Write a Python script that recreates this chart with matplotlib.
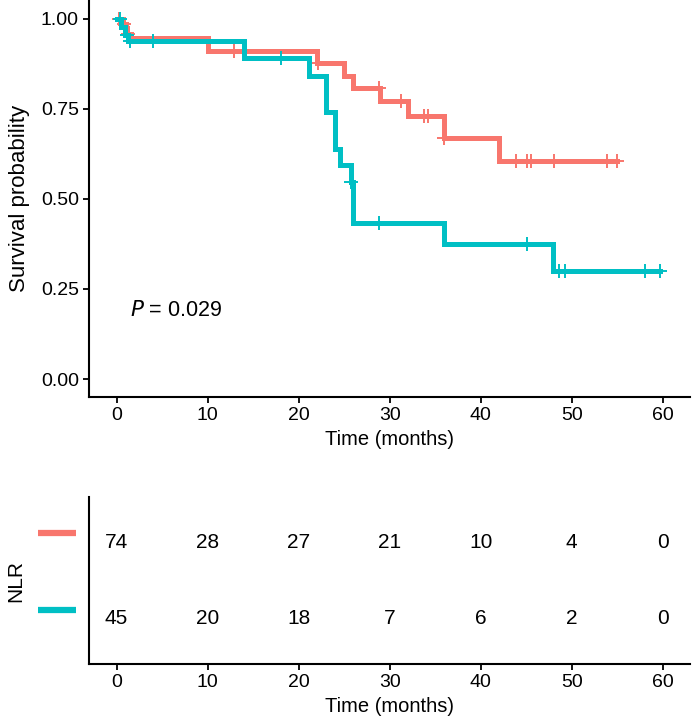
import numpy as np
import matplotlib
matplotlib.use("Agg")
import matplotlib.pyplot as plt
from matplotlib.transforms import blended_transform_factory

plt.rcParams["font.family"] = ["Liberation Sans", "DejaVu Sans"]

# Kaplan-Meier steps (time in months, survival)
red_t = [0, 0.7, 1.0, 1.2, 1.6, 10, 22, 25, 26, 29, 32, 36, 42, 55]
red_s = [1.0, 0.986, 0.973, 0.959, 0.946, 0.911, 0.878, 0.842, 0.807, 0.771, 0.731, 0.670, 0.605, 0.605]
red_cens = [0.3, 0.8, 1.3, 12.9, 22.1, 28.8, 31.2, 33.8, 34.2, 36.0, 43.9, 45.1, 45.5, 48.1, 53.9, 55.0]

cyan_t = [0, 0.5, 0.9, 1.3, 14, 21.1, 23, 24, 24.5, 25.8, 26, 36, 48, 59.7]
cyan_s = [1.0, 0.978, 0.956, 0.937, 0.890, 0.842, 0.742, 0.639, 0.593, 0.547, 0.433, 0.374, 0.299, 0.299]
cyan_cens = [0.4, 1.2, 1.5, 4.0, 18.1, 25.8, 28.8, 45.1, 48.6, 49.3, 58.1, 59.7]

risk_times = [0, 10, 20, 30, 40, 50, 60]
red_risk = [74, 28, 27, 21, 10, 4, 0]
cyan_risk = [45, 20, 18, 7, 6, 2, 0]

pval_text = "$\\it{P}$ = 0.029"

RED = "#F8766D"
CYAN = "#00BFC4"

def surv_at(t, times, surv):
    i = np.searchsorted(times, t, side="right") - 1
    return surv[i]

fig = plt.figure(figsize=(6.92, 7.18), dpi=100)
ax = fig.add_axes([0.129, 0.447, 0.868, 0.552])
tab = fig.add_axes([0.129, 0.0752, 0.868, 0.2326])

for t, s, c, col in [(red_t, red_s, red_cens, RED), (cyan_t, cyan_s, cyan_cens, CYAN)]:
    ax.step(t, s, where="post", color=col, lw=3.6, solid_joinstyle="miter")
    cy = [surv_at(x, t, s) for x in c]
    ax.plot(c, cy, ls="none", marker="+", ms=10, mew=1.4, color=col)

ax.text(1.5, 0.19, pval_text, fontsize=15.5, ha="left", va="center")

ax.set_xlim(-3, 63)
ax.set_ylim(-0.05, 1.05)
ax.set_xticks(risk_times)
ax.set_yticks([0, 0.25, 0.5, 0.75, 1.0])
ax.set_yticklabels(["0.00", "0.25", "0.50", "0.75", "1.00"])
ax.set_xlabel("Time (months)", fontsize=14.5, labelpad=4)
ax.set_ylabel("Survival probability", fontsize=16, labelpad=8)

# risk table
for x, n in zip(risk_times, red_risk):
    tab.text(x, 2, str(n), fontsize=15, ha="center", va="center")
for x, n in zip(risk_times, cyan_risk):
    tab.text(x, 1, str(n), fontsize=15, ha="center", va="center")

tr = blended_transform_factory(tab.transAxes, tab.transData)
tab.plot([-0.085, -0.022], [2.13, 2.13], color=RED, lw=4.5, transform=tr, clip_on=False, solid_capstyle="butt")
tab.plot([-0.085, -0.022], [1.11, 1.11], color=CYAN, lw=4.5, transform=tr, clip_on=False, solid_capstyle="butt")

tab.set_xlim(-3, 63)
tab.set_ylim(0.387, 2.613)
tab.set_xticks(risk_times)
tab.set_yticks([])
tab.set_xlabel("Time (months)", fontsize=14.5, labelpad=4)
tab.set_ylabel("NLR", fontsize=15, labelpad=46)

for a in (ax, tab):
    for sp in ("top", "right"):
        a.spines[sp].set_visible(False)
    for sp in ("left", "bottom"):
        a.spines[sp].set_linewidth(1.5)
    a.tick_params(labelsize=14, width=1.3, length=4, color="black", labelcolor="black")

fig.savefig("out.png", dpi=100)
